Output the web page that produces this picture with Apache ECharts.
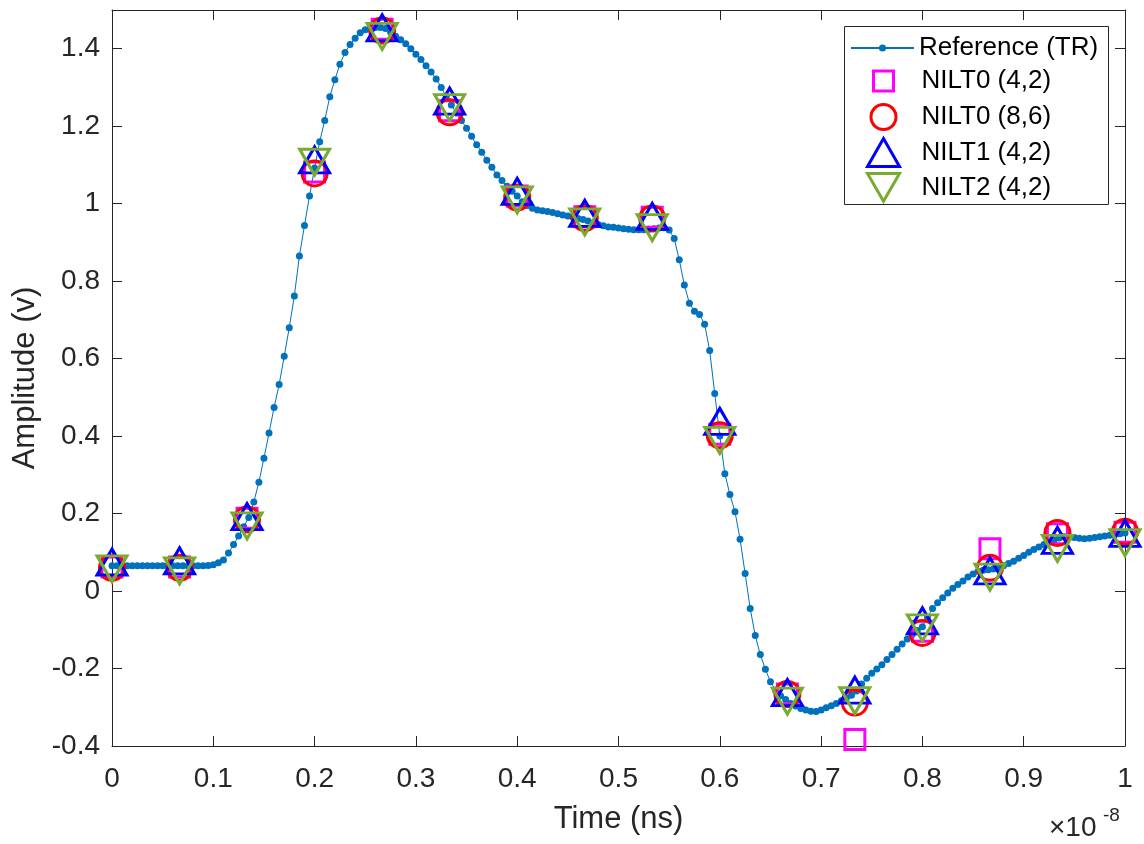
<!DOCTYPE html>
<html>
<head>
<meta charset="utf-8">
<script src="https://cdn.jsdelivr.net/npm/echarts@6/dist/echarts.min.js"></script>
<style>
html,body{margin:0;padding:0;background:#fff;}
#chart{width:1144px;height:844px;}
</style>
</head>
<body>
<div id="chart"></div>
<script>
// ---- Data (time in units of 1e-8 s, amplitude in V) ----
const refTime = [
0.000,0.005,0.010,0.015,0.020,0.025,0.030,0.035,0.040,0.045,
0.050,0.055,0.060,0.065,0.070,0.075,0.080,0.085,0.090,0.095,
0.100,0.105,0.110,0.115,0.120,0.125,0.130,0.135,0.140,0.145,
0.150,0.155,0.160,0.165,0.170,0.175,0.180,0.185,0.190,0.195,
0.200,0.205,0.210,0.215,0.220,0.225,0.230,0.235,0.240,0.245,
0.250,0.255,0.260,0.265,0.270,0.275,0.280,0.285,0.290,0.295,
0.300,0.305,0.310,0.315,0.320,0.325,0.330,0.335,0.340,0.345,
0.350,0.355,0.360,0.365,0.370,0.375,0.380,0.385,0.390,0.395,
0.400,0.405,0.410,0.415,0.420,0.425,0.430,0.435,0.440,0.445,
0.450,0.455,0.460,0.465,0.470,0.475,0.480,0.485,0.490,0.495,
0.500,0.505,0.510,0.515,0.520,0.525,0.530,0.535,0.540,0.545,
0.550,0.555,0.560,0.565,0.570,0.575,0.580,0.585,0.590,0.595,
0.600,0.605,0.610,0.615,0.620,0.625,0.630,0.635,0.640,0.645,
0.650,0.655,0.660,0.665,0.670,0.675,0.680,0.685,0.690,0.695,
0.700,0.705,0.710,0.715,0.720,0.725,0.730,0.735,0.740,0.745,
0.750,0.755,0.760,0.765,0.770,0.775,0.780,0.785,0.790,0.795,
0.800,0.805,0.810,0.815,0.820,0.825,0.830,0.835,0.840,0.845,
0.850,0.855,0.860,0.865,0.870,0.875,0.880,0.885,0.890,0.895,
0.900,0.905,0.910,0.915,0.920,0.925,0.930,0.935,0.940,0.945,
0.950,0.955,0.960,0.965,0.970,0.975,0.980,0.985,0.990,0.995,
1.000];
const refAmp = [
0.065,0.065,0.065,0.065,0.065,0.065,0.065,0.065,0.065,0.065,
0.065,0.065,0.065,0.065,0.065,0.065,0.065,0.065,0.065,0.066,
0.068,0.073,0.080,0.098,0.120,0.142,0.166,0.190,0.230,0.281,
0.343,0.408,0.474,0.533,0.606,0.680,0.762,0.865,0.944,1.020,
1.092,1.160,1.215,1.276,1.320,1.360,1.390,1.411,1.427,1.441,
1.449,1.453,1.455,1.455,1.452,1.443,1.432,1.423,1.413,1.400,
1.386,1.372,1.356,1.340,1.322,1.300,1.276,1.255,1.234,1.215,
1.195,1.174,1.152,1.133,1.112,1.094,1.074,1.060,1.045,1.032,
1.020,1.005,0.995,0.988,0.984,0.982,0.980,0.977,0.974,0.971,
0.968,0.965,0.962,0.959,0.955,0.950,0.946,0.943,0.940,0.939,
0.937,0.935,0.934,0.933,0.933,0.933,0.934,0.935,0.937,0.938,
0.932,0.910,0.855,0.790,0.743,0.722,0.714,0.689,0.621,0.510,
0.400,0.303,0.249,0.205,0.134,0.045,-0.045,-0.115,-0.164,-0.202,
-0.234,-0.256,-0.270,-0.280,-0.290,-0.297,-0.303,-0.307,-0.310,-0.311,
-0.307,-0.301,-0.296,-0.290,-0.283,-0.276,-0.269,-0.258,-0.240,-0.225,
-0.212,-0.201,-0.190,-0.177,-0.164,-0.150,-0.137,-0.124,-0.112,-0.102,
-0.092,-0.068,-0.045,-0.030,-0.017,-0.005,0.007,0.017,0.026,0.036,
0.044,0.051,0.054,0.055,0.057,0.060,0.065,0.071,0.077,0.085,
0.092,0.100,0.107,0.114,0.120,0.126,0.132,0.137,0.140,0.140,
0.138,0.136,0.135,0.136,0.138,0.140,0.142,0.144,0.146,0.148,
0.150];

const markTime = [0,0.0667,0.1333,0.2,0.2667,0.3333,0.4,0.4667,0.5333,0.6,0.6667,0.7333,0.8,0.8667,0.9333,1];
const nilt0_42 = [0.062,0.062,0.188,1.082,1.450,1.240,1.020,0.966,0.965,0.405,-0.266,-0.383,-0.104,0.109,0.148,0.152];
const nilt0_86 = [0.060,0.060,0.185,1.078,1.447,1.236,1.016,0.963,0.962,0.402,-0.266,-0.288,-0.108,0.060,0.150,0.153];
const nilt1_42 = [0.075,0.078,0.192,1.113,1.454,1.265,1.032,0.975,0.967,0.438,-0.262,-0.256,-0.077,0.052,0.131,0.149];
const nilt2_42 = [0.057,0.052,0.168,1.107,1.432,1.248,1.010,0.953,0.938,0.389,-0.284,-0.283,-0.095,0.036,0.110,0.125];

const seriesNames = ['Reference (TR)','NILT0 (4,2)','NILT0 (8,6)','NILT1 (4,2)','NILT2 (4,2)'];
const xTickLabels = ['0','0.1','0.2','0.3','0.4','0.5','0.6','0.7','0.8','0.9','1'];

// ---- Build ----
const zip = (xs, ys) => xs.map((x, i) => [x, ys[i]]);
const FONT = '"Liberation Sans", Arial, Helvetica, sans-serif';
const AX = '#262626';
const DOWN_TRIANGLE = 'path://M0,0L30,0L15,26Z';

const chart = echarts.init(document.getElementById('chart'), null, {renderer: 'canvas'});

function markerSeries(name, data, symbol, size, color, rotate) {
  return {
    name: name, type: 'scatter', data: data,
    symbol: symbol, symbolSize: size, symbolRotate: rotate || 0,
    itemStyle: {color: 'rgba(0,0,0,0)', borderColor: color, borderWidth: 3, opacity: 1},
    emphasis: {disabled: true}, z: 3
  };
}

// icon box centred at x = 882, text starting at x = 920
function legendRow(name, top, itemW, itemH, icon) {
  const left = 882 - itemW / 2;
  const pad = 920 - (left + itemW + 5);
  const item = icon ? {name: name, icon: icon} : name;
  return {
    data: [item], left: left, top: top, orient: 'vertical', padding: 0,
    itemWidth: itemW, itemHeight: itemH, selectedMode: false, z: 10,
    itemStyle: {borderWidth: 3, opacity: 1},
    textStyle: {fontFamily: FONT, fontSize: 26, color: '#000', lineHeight: 30,
      padding: [0, 0, 0, pad]}
  };
}

const axisCommon = {
  axisLine: {show: true, onZero: false, lineStyle: {color: AX, width: 1}},
  axisTick: {show: true, inside: true, length: 10, lineStyle: {color: AX}},
  splitLine: {show: false}
};

const option = {
  animation: false,
  backgroundColor: '#fff',
  grid: {left: 112, top: 10, right: 19, bottom: 98, containLabel: false},
  xAxis: [
    Object.assign({}, axisCommon, {
      type: 'value', min: 0, max: 1, interval: 0.1, position: 'bottom',
      name: 'Time (ns)', nameLocation: 'middle', nameGap: 58,
      nameTextStyle: {fontFamily: FONT, fontSize: 31, color: AX},
      axisLabel: {fontFamily: FONT, fontSize: 28, color: AX, margin: 19,
        formatter: (v) => xTickLabels[Math.round(v * 10)]}
    }),
    Object.assign({}, axisCommon, {
      type: 'value', min: 0, max: 1, interval: 0.1, position: 'top',
      axisLabel: {show: false}
    })
  ],
  yAxis: [
    Object.assign({}, axisCommon, {
      type: 'value', min: -0.4, max: 1.5, interval: 0.2, position: 'left',
      name: 'Amplitude (v)', nameLocation: 'middle', nameGap: 60,
      nameTextStyle: {fontFamily: FONT, fontSize: 31, color: AX},
      axisLabel: {fontFamily: FONT, fontSize: 28, color: AX, margin: 12, showMaxLabel: false,
        formatter: (v) => String(Math.round(v * 10) / 10)}
    }),
    Object.assign({}, axisCommon, {
      type: 'value', min: -0.4, max: 1.5, interval: 0.2, position: 'right',
      axisLabel: {show: false}
    })
  ],
  legend: [
    {
      data: [seriesNames[0]], left: 850, top: 33, orient: 'vertical', padding: 0,
      itemWidth: 63, itemHeight: 9, selectedMode: false, z: 10,
      textStyle: {fontFamily: FONT, fontSize: 26, color: '#000', lineHeight: 30}
    },
    legendRow(seriesNames[1], 66, 20, 20),
    legendRow(seriesNames[2], 102, 25, 25),
    legendRow(seriesNames[3], 137, 32, 28),
    legendRow(seriesNames[4], 172, 32, 28, DOWN_TRIANGLE)
  ],
  graphic: [
    {type: 'rect', shape: {x: 844.5, y: 26.5, width: 264, height: 178}, z: 5,
      style: {fill: '#fff', stroke: AX, lineWidth: 1}},
    {type: 'text', x: 1049, y: 814, z: 5,
      style: {text: '\u00d710', fontFamily: FONT, fontSize: 28, fill: AX}},
    {type: 'text', x: 1103, y: 806, z: 5,
      style: {text: '-8', fontFamily: FONT, fontSize: 19, fill: AX}}
  ],
  series: [
    {
      name: seriesNames[0], type: 'line', data: zip(refTime, refAmp),
      symbol: 'circle', symbolSize: 7, showSymbol: true, showAllSymbol: true,
      lineStyle: {color: '#0072BD', width: 1},
      itemStyle: {color: '#0072BD'},
      emphasis: {disabled: true}, z: 2
    },
    markerSeries(seriesNames[1], zip(markTime, nilt0_42), 'rect', 20, '#FF00FF'),
    markerSeries(seriesNames[2], zip(markTime, nilt0_86), 'circle', 25, '#FF0000'),
    markerSeries(seriesNames[3], zip(markTime, nilt1_42), 'triangle', [30, 26], '#0000FF'),
    markerSeries(seriesNames[4], zip(markTime, nilt2_42), 'triangle', [30, 26], '#77AC30', 180)
  ]
};
chart.setOption(option);
</script>
</body>
</html>
